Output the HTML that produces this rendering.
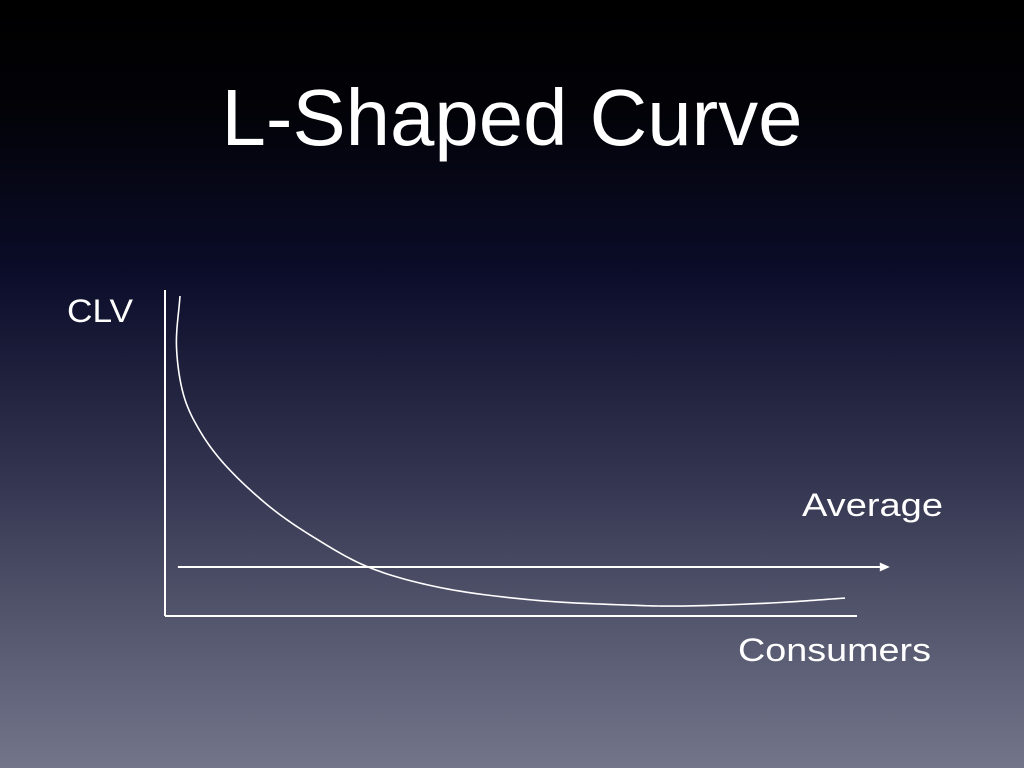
<!DOCTYPE html>
<html><head><meta charset="utf-8"><style>
html,body{margin:0;padding:0;width:1024px;height:768px;overflow:hidden}
body{background:linear-gradient(to bottom,#000 0%,#020207 14%,#0b0d2a 36%,#2c2e4a 58%,#4f5169 78%,#73758b 100%);font-family:"Liberation Sans",sans-serif}
svg{position:absolute;left:0;top:0}
</style></head><body>
<svg id="chart" width="1024" height="768">
<text x="512" y="145" text-anchor="middle" font-size="80" fill="#fff" textLength="581" lengthAdjust="spacingAndGlyphs">L-Shaped Curve</text>
<text x="67" y="322" font-size="32" fill="#fff" textLength="66" lengthAdjust="spacingAndGlyphs">CLV</text>
<text x="802" y="516" font-size="32" fill="#fff" textLength="141" lengthAdjust="spacingAndGlyphs">Average</text>
<text x="738" y="661" font-size="32" fill="#fff" textLength="193" lengthAdjust="spacingAndGlyphs">Consumers</text>
<line x1="165" y1="290" x2="165" y2="616" stroke="#fff" stroke-width="2"/>
<line x1="165" y1="616" x2="857" y2="616" stroke="#fff" stroke-width="2"/>
</svg>
<script>
const consumers=[2,1.5,2.6,4.8,8.2,14.9,21.7,28.9,38.7,52.4,66.1,73,86.7,97];
const clv=[100,84,68.4,58,47.8,34,23.8,15.3,9.1,5,3.4,3.1,4.1,5.6];
const average=[15.3];
const avgRange=[1.7,103.4];
const X=v=>166+v*7;
const Y=v=>616-v*3.2;
const svg=document.getElementById('chart');
const NS='http://www.w3.org/2000/svg';
const pts=consumers.map((c,i)=>[X(c),Y(clv[i])]);
// centripetal Catmull-Rom sampling
function cr(p0,p1,p2,p3,t){
 const a=0.5,tj=(pi,pj)=>Math.pow(Math.hypot(pj[0]-pi[0],pj[1]-pi[1])||1e-4,a);
 const t0=0,t1=t0+tj(p0,p1),t2=t1+tj(p1,p2),t3=t2+tj(p2,p3);
 const tt=t1+(t2-t1)*t;
 const L=(pa,pb,ta,tb)=>[0,1].map(k=>(tb-tt)/(tb-ta)*pa[k]+(tt-ta)/(tb-ta)*pb[k]);
 const A1=L(p0,p1,t0,t1),A2=L(p1,p2,t1,t2),A3=L(p2,p3,t2,t3);
 const B1=L(A1,A2,t0,t2),B2=L(A2,A3,t1,t3);
 return L(B1,B2,t1,t2);
}
const ext=[[2*pts[0][0]-pts[1][0],2*pts[0][1]-pts[1][1]],...pts,[2*pts[pts.length-1][0]-pts[pts.length-2][0],2*pts[pts.length-1][1]-pts[pts.length-2][1]]];
let d='M'+pts[0][0]+','+pts[0][1];
for(let i=1;i<ext.length-2;i++){
 for(let s=1;s<=16;s++){const q=cr(ext[i-1],ext[i],ext[i+1],ext[i+2],s/16);d+=' L'+q[0].toFixed(2)+','+q[1].toFixed(2);}
}
const path=document.createElementNS(NS,'path');
path.setAttribute('d',d);path.setAttribute('fill','none');path.setAttribute('stroke','#fff');path.setAttribute('stroke-width','1.6');path.setAttribute('stroke-linejoin','round');


svg.appendChild(path);
const ay=Y(average[0]),ax1=X(avgRange[0]),ax2=X(avgRange[1]);
const line=document.createElementNS(NS,'line');
line.setAttribute('x1',ax1);line.setAttribute('x2',ax2-8);line.setAttribute('y1',ay);line.setAttribute('y2',ay);
line.setAttribute('stroke','#fff');line.setAttribute('stroke-width','2');


svg.appendChild(line);
const head=document.createElementNS(NS,'polygon');
head.setAttribute('points',`${ax2},${ay} ${ax2-10},${ay-4.5} ${ax2-10},${ay+4.5}`);
head.setAttribute('fill','#fff');


svg.appendChild(head);
</script>
</body></html>
